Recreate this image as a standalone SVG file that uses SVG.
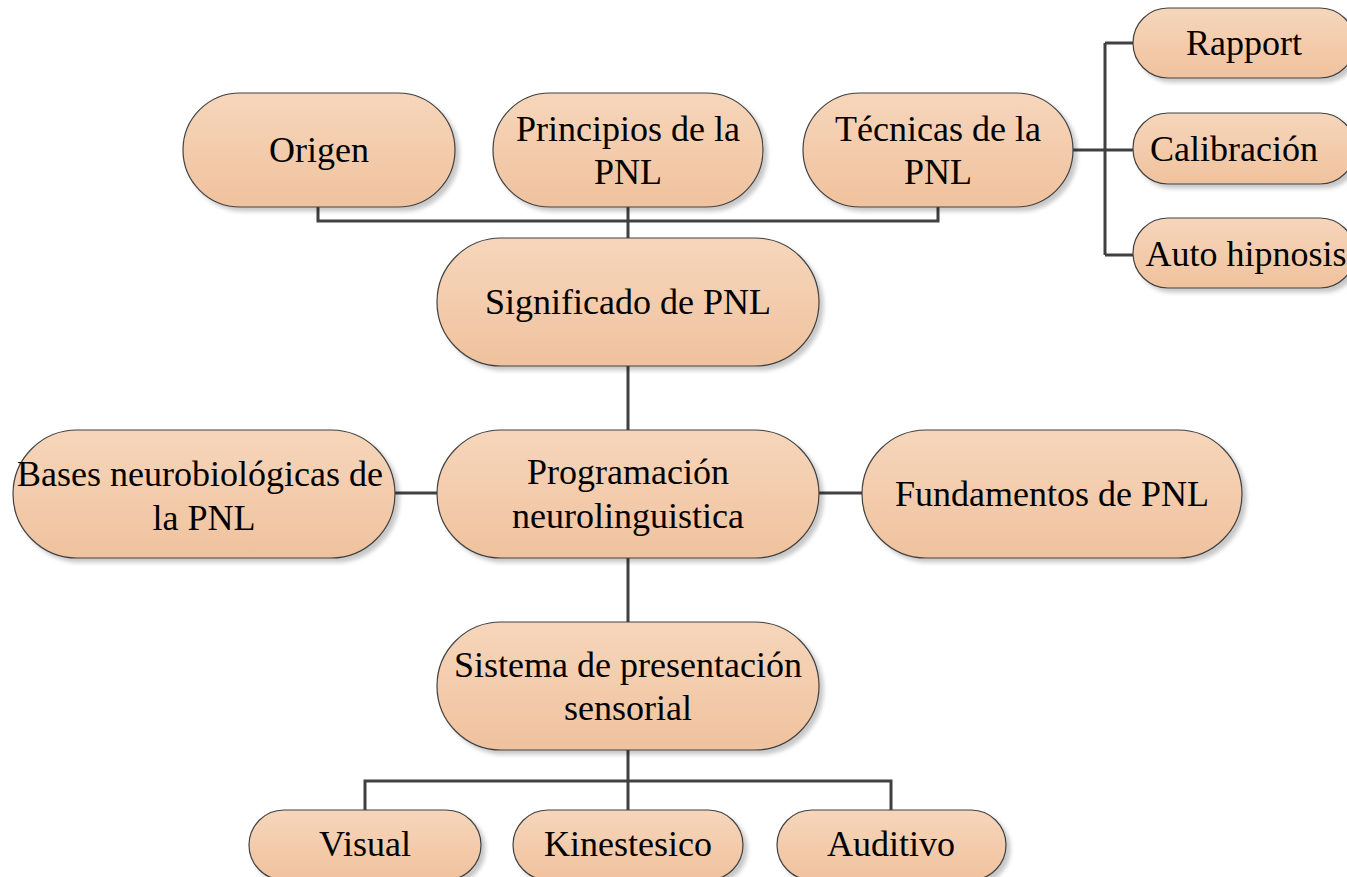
<svg xmlns="http://www.w3.org/2000/svg" width="1347" height="877" viewBox="0 0 1347 877">
<style>
.n{fill:url(#g);stroke:#404040;stroke-width:1.2;filter:url(#sh)}
.t{font-family:"Liberation Serif","Times New Roman",serif;font-size:36px;fill:#000;text-anchor:middle;dominant-baseline:central}
.c{fill:none;stroke:#404040;stroke-width:3}
</style>
<defs>
<linearGradient id="g" x1="0" y1="0" x2="0" y2="1">
<stop offset="0" stop-color="#f6d6bb"/>
<stop offset="1" stop-color="#f0c29e"/>
</linearGradient>
<filter id="sh" x="-10%" y="-10%" width="130%" height="140%">
<feGaussianBlur in="SourceAlpha" stdDeviation="2"/>
<feOffset dx="4" dy="4" result="b"/>
<feComponentTransfer><feFuncA type="linear" slope="0.22"/></feComponentTransfer>
<feMerge><feMergeNode/><feMergeNode in="SourceGraphic"/></feMerge>
</filter>
</defs>
<rect width="1347" height="877" fill="#fff"/>
<g id="connectors">
<path class="c" d="M318 207V221H938V207M628 207V238"/>
<path class="c" d="M1073 150H1133M1105 43V255M1105 43H1133M1105 255H1133"/>
<path class="c" d="M628 366V430M628 558V622M628 750V781M365 810V781H891V810M628 781V810"/>
<path class="c" d="M395 493H437M819 493H862"/>
</g>
<g id="origen"><rect class="n" x="183" y="93" width="272" height="114" rx="57"/><text class="t" x="319" y="150">Origen</text></g>
<g id="principios"><rect class="n" x="493" y="93" width="270" height="114" rx="57"/><text class="t" x="628" y="129">Principios de la</text><text class="t" x="628" y="172">PNL</text></g>
<g id="tecnicas"><rect class="n" x="803" y="93" width="270" height="114" rx="57"/><text class="t" x="938" y="129">Técnicas de la</text><text class="t" x="938" y="172">PNL</text></g>
<g id="rapport"><rect class="n" x="1133" y="8" width="222" height="70" rx="35"/><text class="t" x="1244" y="43">Rapport</text></g>
<g id="calibracion"><rect class="n" x="1133" y="113" width="222" height="71" rx="35"/><text class="t" x="1234" y="149">Calibración</text></g>
<g id="autohipnosis"><rect class="n" x="1133" y="218" width="222" height="70" rx="35"/><text class="t" x="1246" y="254">Auto hipnosis</text></g>
<g id="significado"><rect class="n" x="437" y="238" width="382" height="128" rx="64"/><text class="t" x="628" y="302">Significado de PNL</text></g>
<g id="programacion"><rect class="n" x="437" y="430" width="382" height="128" rx="64"/><text class="t" x="628" y="472">Programación</text><text class="t" x="628" y="516">neurolinguistica</text></g>
<g id="bases"><rect class="n" x="13" y="430" width="382" height="128" rx="64"/><text class="t" x="200" y="474">Bases neurobiológicas de</text><text class="t" x="204" y="518">la PNL</text></g>
<g id="fundamentos"><rect class="n" x="862" y="430" width="380" height="128" rx="64"/><text class="t" x="1052" y="494">Fundamentos de PNL</text></g>
<g id="sistema"><rect class="n" x="437" y="622" width="382" height="128" rx="64"/><text class="t" x="628" y="665">Sistema de presentación</text><text class="t" x="628" y="708">sensorial</text></g>
<g id="visual"><rect class="n" x="249" y="810" width="232" height="70" rx="35"/><text class="t" x="365" y="844">Visual</text></g>
<g id="kinestesico"><rect class="n" x="513" y="810" width="230" height="70" rx="35"/><text class="t" x="628" y="844">Kinestesico</text></g>
<g id="auditivo"><rect class="n" x="777" y="810" width="229" height="70" rx="35"/><text class="t" x="891" y="844">Auditivo</text></g>
</svg>
